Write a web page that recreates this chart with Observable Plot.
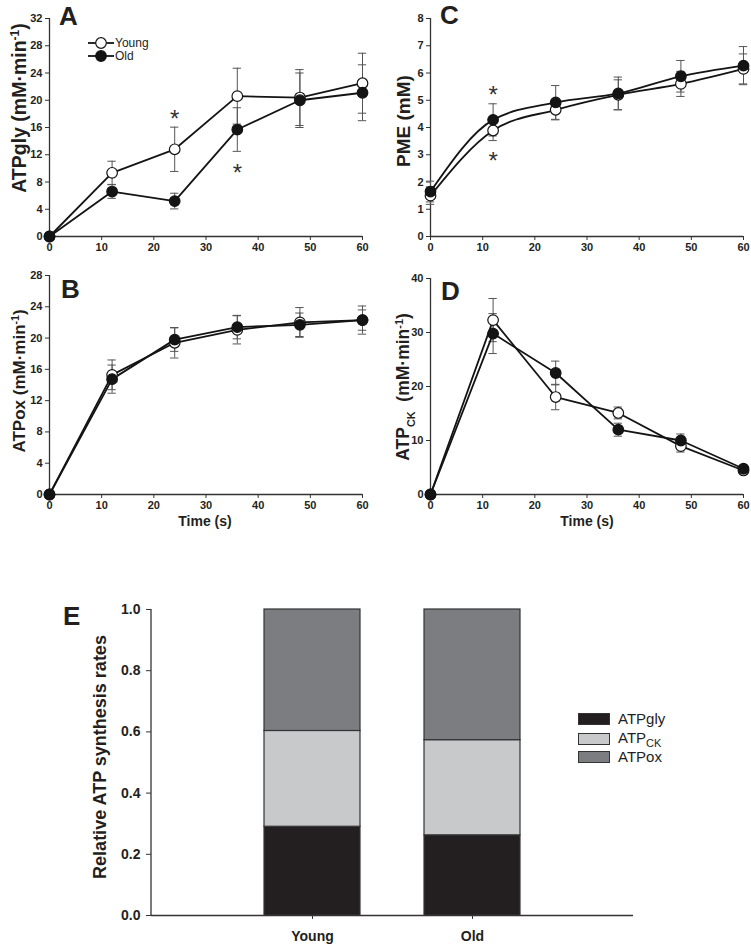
<!DOCTYPE html>
<html><head><meta charset="utf-8">
<script src="https://cdn.jsdelivr.net/npm/d3@7"></script>
<script src="https://cdn.jsdelivr.net/npm/@observablehq/plot@0.6"></script>
<style>
body{margin:0;background:#fff;}
#root{position:relative;width:751px;height:948px;overflow:hidden;background:#fff;font-family:"Liberation Sans",Arial,sans-serif;color:#231f20;}
.legend-row{position:absolute;display:flex;align-items:center;font-size:15px;}
.sw{width:30px;height:10px;border:1px solid #333;margin-right:8px;}
</style></head><body><div id="root"></div>
<script>
// ---------- data ----------
const times = [0, 12, 24, 36, 48, 60];
const xTicks = [0, 10, 20, 30, 40, 50, 60];

// A: ATPgly (mM·min-1)
const glyYoung    = [0, 9.35, 12.8, 20.6, 20.4, 22.5];
const glyYoungErr = [0, 1.7, 3.25, 4.1, 4.1, 4.4];
const glyOld      = [0, 6.6, 5.2, 15.7, 20.0, 21.1];
const glyOldErr   = [0, 1.0, 1.15, 3.2, 4.0, 4.1];
const glyTicks    = [0, 4, 8, 12, 16, 20, 24, 28, 32];
const glyStars    = [{t: 24, v: 18.2}, {t: 36, v: 10.3}];

// C: PME (mM)
const pmeYoung    = [1.5, 3.89, 4.65, 5.2, 5.6, 6.15];
const pmeYoungErr = [0.32, 0.37, 0.37, 0.55, 0.46, 0.55];
const pmeOld      = [1.65, 4.28, 4.92, 5.25, 5.88, 6.27];
const pmeOldErr   = [0.38, 0.59, 0.62, 0.6, 0.58, 0.7];
const pmeTicks    = [0, 1, 2, 3, 4, 5, 6, 7, 8];
const pmeStars    = [{t: 12, v: 5.42}, {t: 12, v: 3.0}];

// B: ATPox (mM·min-1)
const oxYoung     = [0, 15.3, 19.4, 21.05, 22.0, 22.3];
const oxYoungErr  = [0, 1.9, 1.95, 1.8, 1.9, 1.8];
const oxOld       = [0, 14.75, 19.8, 21.4, 21.7, 22.3];
const oxOldErr    = [0, 1.8, 1.5, 1.5, 1.5, 1.3];
const oxTicks     = [0, 4, 8, 12, 16, 20, 24, 28];

// D: ATPCK (mM·min-1)
const ckYoung     = [0, 32.3, 18.05, 15.1, 8.96, 4.45];
const ckYoungErr  = [0, 4.0, 2.35, 1.1, 1.1, 0.5];
const ckOld       = [0, 29.8, 22.5, 12.0, 10.0, 4.77];
const ckOldErr    = [0, 3.7, 2.2, 1.2, 1.2, 0.5];
const ckTicks     = [0, 10, 20, 30, 40];

// E: relative ATP synthesis rates
const groups   = ["Young", "Old"];
const sources  = ["ATPgly", "ATPCK", "ATPox"];
const shareGly = [0.29, 0.262];
const shareCK  = [0.313, 0.311];
const shareOx  = [0.397, 0.427];
const eTicks   = [0, 0.2, 0.4, 0.6, 0.8, 1.0];
const sourceColors = ["#231f20", "#c8c9cb", "#7c7d81"];

// ---------- helpers ----------
const FONT = "'Liberation Sans', Arial, Helvetica, sans-serif";
const INK = "#231f20";
const root = document.getElementById("root");

function place(node, left, top) {
  node.style.position = "absolute";
  node.style.left = left + "px";
  node.style.top = top + "px";
  root.appendChild(node);
  return node;
}

function addText(svg, {x, y, parts, size, weight = "bold", rotate = false, anchor = "middle"}) {
  const t = d3.select(svg).append("text")
    .attr("transform", `translate(${x},${y})${rotate ? " rotate(-90)" : ""}`)
    .attr("text-anchor", anchor)
    .attr("font-family", FONT)
    .attr("font-weight", weight).attr("fill", INK)
    .style("font-size", size + "px");
  if (rotate) t.attr("dy", "0.35em");
  for (const [s, mode] of parts) {
    const ts = t.append("tspan").text(s);
    if (mode === "sup") ts.style("font-size", (size * 0.62) + "px").attr("baseline-shift", "super");
    if (mode === "sub") ts.style("font-size", (size * 0.62) + "px").attr("baseline-shift", "sub");
  }
}

function rows(vals, errs, group) {
  return times.map((t, i) => ({t, v: vals[i], e: errs[i], g: group}));
}

function timePanel(cfg) {
  const data = [...rows(cfg.young, cfg.youngErr, "Young"), ...rows(cfg.old, cfg.oldErr, "Old")];
  const eb = data.filter(d => d.e > 0);
  const cap = 0.8;
  const ebStroke = "#555";
  const svg = Plot.plot({
    width: cfg.width, height: cfg.height,
    marginLeft: cfg.ml, marginRight: cfg.mr, marginTop: cfg.mt, marginBottom: cfg.mb,
    style: {fontFamily: FONT, fontSize: "11px", fontWeight: "bold", color: "#333", overflow: "visible", background: "transparent"},
    x: {domain: [0, 60], label: null},
    y: {domain: [0, cfg.ymax], label: null},
    marks: [
      Plot.axisX({ticks: xTicks, tickSize: 4, tickPadding: 3, label: null, fill: INK, fontSize: 11}),
      Plot.axisY({ticks: cfg.yTicks, tickSize: 4, tickPadding: 3, label: null, fill: INK, fontSize: 11}),
      Plot.ruleX([0], {stroke: "#333", strokeWidth: 1.3}),
      Plot.ruleY([0], {stroke: "#333", strokeWidth: 1.3}),
      Plot.ruleX(eb, {x: "t", y1: d => d.v - d.e, y2: d => d.v + d.e, stroke: ebStroke, strokeWidth: 1}),
      Plot.ruleY(eb, {y: d => d.v + d.e, x1: d => d.t - cap, x2: d => d.t + cap, stroke: ebStroke, strokeWidth: 1}),
      Plot.ruleY(eb, {y: d => d.v - d.e, x1: d => d.t - cap, x2: d => d.t + cap, stroke: ebStroke, strokeWidth: 1}),
      Plot.line(data, {x: "t", y: "v", z: "g", stroke: "#141414", strokeWidth: 1.8, curve: cfg.curve || "linear"}),
      Plot.dot(data.filter(d => d.g === "Young"), {x: "t", y: "v", r: 5.3, fill: "#fff", stroke: "#141414", strokeWidth: 1.2}),
      Plot.dot(data.filter(d => d.g === "Old"), {x: "t", y: "v", r: 5.3, fill: "#141414", stroke: "#141414", strokeWidth: 1.2}),
      Plot.text(cfg.stars || [], {x: "t", y: "v", text: () => "*", fontSize: 24, fontWeight: "normal", fill: "#333", dy: 7})
    ]
  });
  place(svg, cfg.left, cfg.top);
  addText(svg, {x: cfg.letterX, y: cfg.letterY, parts: [[cfg.letter]], size: 26, anchor: "start"});
  addText(svg, {x: cfg.ylabX, y: cfg.ylabY, parts: cfg.ylabel, size: cfg.ylabSize, rotate: true});
  if (cfg.xlabel) addText(svg, {x: cfg.xlabX, y: cfg.xlabY, parts: [[cfg.xlabel]], size: 14});
  return svg;
}

const unitParts = [[" (mM·min"], ["-1", "sup"], [")"]];

// A
timePanel({left: 0, top: 0, width: 375, height: 260, ml: 49, mr: 13, mt: 18, mb: 24,
  ymax: 32, yTicks: glyTicks, young: glyYoung, youngErr: glyYoungErr, old: glyOld, oldErr: glyOldErr,
  stars: glyStars, letter: "A", letterX: 59, letterY: 25,
  ylabel: [["ATPgly"], ...unitParts], ylabX: 19, ylabY: 108, ylabSize: 19.5});

// C
timePanel({left: 380, top: 0, width: 371, height: 260, ml: 50, mr: 8, mt: 18, mb: 24,
  ymax: 8, yTicks: pmeTicks, young: pmeYoung, youngErr: pmeYoungErr, old: pmeOld, oldErr: pmeOldErr,
  curve: "monotone-x", stars: pmeStars, letter: "C", letterX: 60, letterY: 24,
  ylabel: [["PME (mM)"]], ylabX: 23, ylabY: 121, ylabSize: 19});

// B
timePanel({left: 0, top: 250, width: 375, height: 280, ml: 49, mr: 13, mt: 25, mb: 36,
  ymax: 28, yTicks: oxTicks, young: oxYoung, youngErr: oxYoungErr, old: oxOld, oldErr: oxOldErr,
  letter: "B", letterX: 61, letterY: 48,
  ylabel: [["ATPox"], ...unitParts], ylabX: 19, ylabY: 131, ylabSize: 17,
  xlabel: "Time (s)", xlabX: 205, xlabY: 276});

// D
timePanel({left: 380, top: 250, width: 371, height: 280, ml: 50, mr: 8, mt: 28, mb: 36,
  ymax: 40, yTicks: ckTicks, young: ckYoung, youngErr: ckYoungErr, old: ckOld, oldErr: ckOldErr,
  letter: "D", letterX: 61, letterY: 50,
  ylabel: [["ATP"], ["CK", "sub"], [" "], ...unitParts], ylabX: 23, ylabY: 137, ylabSize: 17.5,
  xlabel: "Time (s)", xlabX: 207, xlabY: 276});

// Legend for panel A (Young / Old)
{
  const ns = "http://www.w3.org/2000/svg";
  const lg = d3.create("svg").attr("width", 80).attr("height", 30).attr("xmlns", ns);
  const ent = [["Young", "#fff", 9], ["Old", "#141414", 22]];
  for (const [name, fill, y] of ent) {
    lg.append("line").attr("x1", 3).attr("x2", 29).attr("y1", y).attr("y2", y).attr("stroke", "#141414").attr("stroke-width", 1.8);
    lg.append("circle").attr("cx", 16).attr("cy", y).attr("r", 5.3).attr("fill", fill).attr("stroke", "#141414").attr("stroke-width", 1.2);
    lg.append("text").attr("x", 30).attr("y", y).attr("dy", "0.35em").attr("font-family", FONT).style("font-size", "12px").attr("fill", INK).text(name);
  }
  place(lg.node(), 85, 34);
}

// E: stacked bars
{
  const shares = [shareGly, shareCK, shareOx];
  const barRows = [];
  groups.forEach((g, gi) => sources.forEach((s, si) => barRows.push({group: g, source: s, value: shares[si][gi]})));
  const ml = 151, mr = 118, mt = 19, mb = 33, W = 751, H = 358;
  const svg = Plot.plot({
    width: W, height: H, marginLeft: ml, marginRight: mr, marginTop: mt, marginBottom: mb,
    style: {fontFamily: FONT, fontSize: "14px", fontWeight: "bold", color: "#333", overflow: "visible", background: "transparent"},
    x: {domain: groups, paddingInner: 0.4, paddingOuter: 0.7, label: null},
    y: {domain: [0, 1], label: null},
    color: {domain: sources, range: sourceColors},
    marks: [
      Plot.barY(barRows, {x: "group", y: "value", fill: "source", stroke: "#333", strokeWidth: 1.2}),
      Plot.ruleY([0], {stroke: "#333", strokeWidth: 1.3}),
      Plot.axisX({tickSize: 4, tickPadding: 12, label: null, fill: INK, fontSize: 14}),
      Plot.axisY({ticks: eTicks, tickFormat: d3.format(".1f"), tickSize: 5, tickPadding: 6, label: null, fill: INK, fontSize: 14})
    ]
  });
  d3.select(svg).append("line").attr("x1", ml).attr("x2", ml).attr("y1", mt).attr("y2", H - mb)
    .attr("stroke", "#333").attr("stroke-width", 1.3);
  place(svg, 0, 590);
  addText(svg, {x: 63, y: 35, parts: [["E"]], size: 26, anchor: "start"});
  addText(svg, {x: 100, y: 167, parts: [["Relative ATP synthesis rates"]], size: 18, rotate: true});

  // legend
  const names = [[["ATPgly"]], [["ATP"], ["CK", "sub"]], [["ATPox"]]];
  names.forEach((parts, i) => {
    const row = document.createElement("div");
    row.className = "legend-row";
    const sw = document.createElement("div");
    sw.className = "sw";
    sw.style.background = sourceColors[i];
    row.appendChild(sw);
    const lab = document.createElement("span");
    for (const [s, mode] of parts) {
      if (mode === "sub") { const sub = document.createElement("sub"); sub.textContent = s; sub.style.fontSize = "11px"; lab.appendChild(sub); }
      else lab.appendChild(document.createTextNode(s));
    }
    row.appendChild(lab);
    place(row, 578, 710 + i * 19);
  });
}
</script>
</body></html>
